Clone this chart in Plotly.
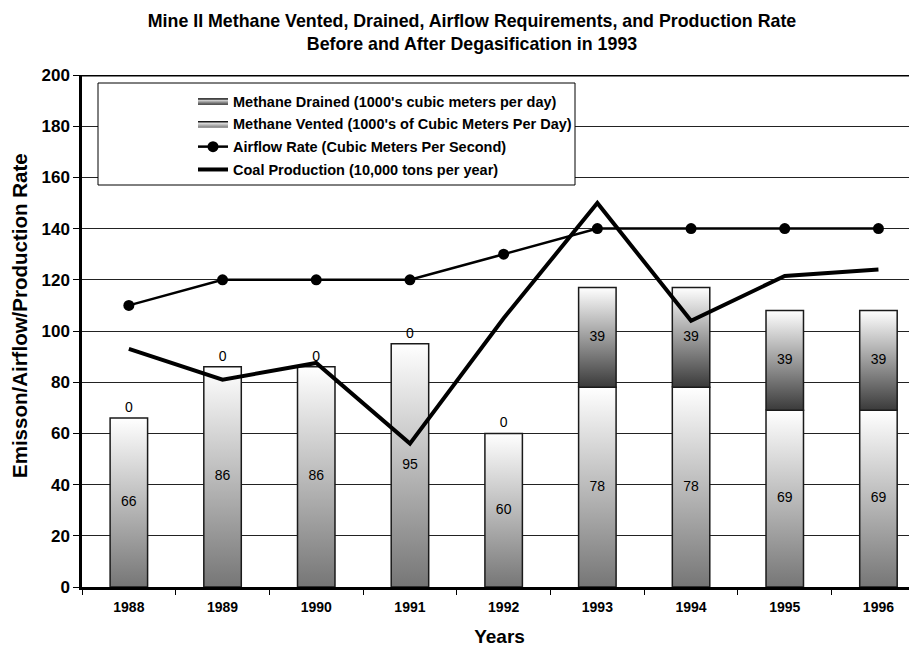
import plotly.graph_objects as go

years = [1988, 1989, 1990, 1991, 1992, 1993, 1994, 1995, 1996]
vented = [66, 86, 86, 95, 60, 78, 78, 69, 69]
drained = [0, 0, 0, 0, 0, 39, 39, 39, 39]
airflow = [110, 120, 120, 120, 130, 140, 140, 140, 140]
coal = [93, 81, 87.5, 56, 105, 150, 104, 121.5, 124]

FONT = "Liberation Sans, Arial, sans-serif"
HALF = 0.2  # half bar width in year units


def bar_box(x, y0, y1):
    return [x - HALF, x + HALF, x + HALF, x - HALF, x - HALF], [y0, y0, y1, y1, y0]


fig = go.Figure()

# vented bars (bottom segment), gradient white -> grey
for i, (yr, v) in enumerate(zip(years, vented)):
    bx, by = bar_box(yr, 0, v)
    fig.add_trace(go.Scatter(
        x=bx, y=by, mode='lines', fill='toself',
        line=dict(color='#1a1a1a', width=1.5),
        fillgradient=dict(type='vertical', start=0, stop=v,
                          colorscale=[[0, '#767676'], [1, '#ffffff']]),
        name="<b>Methane Vented (1000's of Cubic Meters Per Day)</b>",
        legendgroup='vented', showlegend=(i == 0), legendrank=2,
        hoverinfo='skip'
    ))

# drained bars (stacked on top)
first = True
for yr, v, d in zip(years, vented, drained):
    if d <= 0:
        continue
    bx, by = bar_box(yr, v, v + d)
    fig.add_trace(go.Scatter(
        x=bx, y=by, mode='lines', fill='toself',
        line=dict(color='#1a1a1a', width=1.5),
        fillgradient=dict(type='vertical', start=v, stop=v + d,
                          colorscale=[[0, '#3a3a3a'], [1, '#ffffff']]),
        name="<b>Methane Drained (1000's cubic meters per day)</b>",
        legendgroup='drained', showlegend=first, legendrank=1,
        hoverinfo='skip'
    ))
    first = False

# bar labels
fig.add_trace(go.Scatter(
    x=years, y=[v / 2 for v in vented], mode='text',
    text=[str(v) for v in vented], textposition='middle center',
    textfont=dict(size=14, color='black', family=FONT), showlegend=False
))
fig.add_trace(go.Scatter(
    x=years, y=[v + d / 2 if d > 0 else v + 1 for v, d in zip(vented, drained)],
    mode='text', text=[str(d) for d in drained],
    textposition=['middle center' if d > 0 else 'top center' for d in drained],
    textfont=dict(size=14, color='black', family=FONT), showlegend=False
))

fig.add_trace(go.Scatter(
    x=years, y=airflow, mode='lines+markers',
    name='<b>Airflow Rate (Cubic Meters Per Second)</b>',
    line=dict(color='black', width=2.5), legendgroup='air',
    marker=dict(size=11, color='black'), legendrank=3
))
fig.add_trace(go.Scatter(
    x=years, y=coal, mode='lines',
    name='<b>Coal Production (10,000 tons per year)</b>',
    line=dict(color='black', width=4), legendgroup='coal', legendrank=4
))

# page body adds an 8px offset; work in screen pixels minus OFF
OFF = 8
W, H = 917 - OFF, 649 - OFF
L, T = 82 - OFF, 75 - OFF
B = H - (587 - OFF)
pw, ph = W - L, H - T - B


def px(x):
    return (x - OFF - L) / pw


def py(y):
    return (H - B - (y - OFF)) / ph


fig.update_layout(
    width=W, height=H,
    margin=dict(l=L, r=0, t=T, b=B, autoexpand=False),
    plot_bgcolor='white', paper_bgcolor='white',
    font=dict(family=FONT, color='black'),
    title=dict(
        text='<b>Mine II Methane Vented, Drained, Airflow Requirements, and Production Rate'
             '<br>Before and After Degasification in 1993</b>',
        x=(472 - OFF) / W, xanchor='center', y=1 - (27 - OFF) / H, yanchor='middle',
        font=dict(size=17.8, family=FONT, color='black'), automargin=False
    ),
    showlegend=True,
    legend=dict(
        x=px(193), xanchor='left', y=py(85), yanchor='top',
        bgcolor='rgba(0,0,0,0)', borderwidth=0,
        font=dict(size=14.5, family=FONT, color='black'),
        traceorder='grouped', tracegroupgap=1,
        itemwidth=30
    ),
    xaxis=dict(
        range=[1987.5, 1987.5 + pw / 93.7], tickmode='array', tickvals=years,
        ticktext=[f'<b>{y}</b>' for y in years], ticks='', ticklabelstandoff=5,
        tickfont=dict(size=14, family=FONT, color='black'),
        showgrid=False, zeroline=False, automargin=False,
        showline=True, linecolor='black', linewidth=2.5,
        minor=dict(tickmode='linear', tick0=1987.5, dtick=1, ticks='outside',
                   ticklen=5, tickcolor='black', tickwidth=1, showgrid=False),
        title=dict(text='<b>Years</b>', font=dict(size=19, family=FONT, color='black'),
                   standoff=17)
    ),
    yaxis=dict(
        range=[0, 200], tickmode='array', tickvals=list(range(0, 201, 20)),
        ticktext=[f'<b>{v}</b>' for v in range(0, 201, 20)],
        ticks='outside', ticklen=6, tickcolor='black',
        tickfont=dict(size=17, family=FONT, color='black'),
        showgrid=True, gridcolor='#222222', gridwidth=1, zeroline=False,
        showline=True, linecolor='black', linewidth=2.5, automargin=False,
    ),
    annotations=[
        dict(text='<b>Emisson/Airflow/Production Rate</b>', textangle=-90,
             xref='paper', yref='paper', x=px(19), y=py(316),
             xanchor='center', yanchor='middle', showarrow=False,
             font=dict(size=20.5, family=FONT, color='black')),
    ],
    shapes=[
        dict(type='line', xref='paper', yref='y', x0=0, x1=1, y0=200, y1=200,
             line=dict(color='black', width=3), layer='above'),
        dict(type='rect', xref='paper', yref='paper',
             x0=px(98), x1=px(575), y0=py(185), y1=py(83),
             fillcolor='white', line=dict(color='black', width=1), layer='above'),
    ],
)

fig.write_html("out.html")
